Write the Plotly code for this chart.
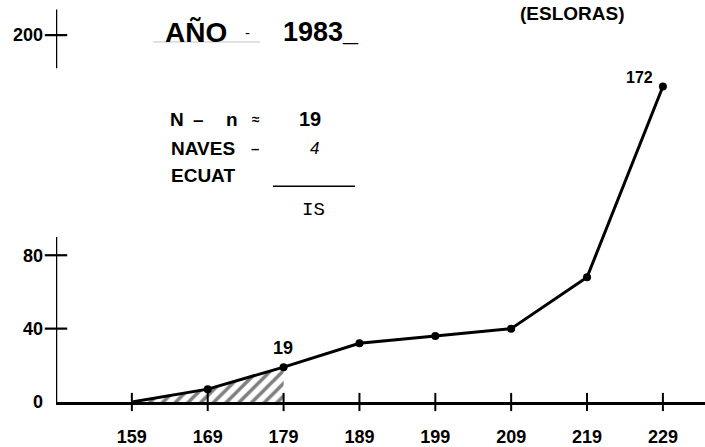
import plotly.graph_objects as go

# Length classes (upper limit of each 10-unit class) and cumulative counts
length_class = [159, 169, 179, 189, 199, 209, 219, 229]
cumulative = [0, 7, 19, 32, 36, 40, 68, 172]

# Vertical axis ticks; the axis is drawn broken between 80 and 200
y_ticks = [0, 40, 80, 200]
y_axis_lower = [0, 90]
y_axis_upper = [182, 214]

# Classes up to this one are shaded with hatching
hatch_upto = 179
sample_size = 19
vessels = 4

# Page geometry
W, H = 705, 447
M_L, M_R, M_T, M_B = 56, 0, 0, 35
X_RANGE = [149, 234.55]
Y_RANGE = [0, 219.15]
X0 = X_RANGE[0]

BOLD = dict(family="Liberation Sans, Arial, sans-serif", color="black", weight="bold")


def px(x, y):
    """Pixel position on the page -> paper coordinates."""
    return ((x - M_L) / (W - M_L - M_R), (H - M_B - y) / (H - M_T - M_B))


fig = go.Figure()

# Hatched area under the curve up to the reference class
hx = [c for c in length_class if c <= hatch_upto]
hy = cumulative[:len(hx)]
fig.add_trace(go.Scatter(
    x=hx, y=hy, mode="lines", fill="tozeroy",
    line=dict(width=0, color="black"),
    fillcolor="white",
    fillpattern=dict(shape="/", fgcolor="black", bgcolor="white", size=9, solidity=0.4),
    hoverinfo="skip", showlegend=False,
))

# Broken vertical axis segments
for seg in (y_axis_lower, y_axis_upper):
    fig.add_trace(go.Scatter(
        x=[X0, X0], y=seg, mode="lines",
        line=dict(color="black", width=2.5),
        hoverinfo="skip", showlegend=False, cliponaxis=False,
    ))

# Crossing tick marks on both axes
fig.add_trace(go.Scatter(
    x=[X0] * (len(y_ticks) - 1), y=y_ticks[1:], mode="markers",
    marker=dict(symbol="line-ew", size=16, line=dict(color="black", width=2.2)),
    hoverinfo="skip", showlegend=False, cliponaxis=False,
))
fig.add_trace(go.Scatter(
    x=length_class, y=[0] * len(length_class), mode="markers",
    marker=dict(symbol="line-ns", size=13, line=dict(color="black", width=2)),
    hoverinfo="skip", showlegend=False, cliponaxis=False,
))

# Cumulative curve
fig.add_trace(go.Scatter(
    x=length_class, y=cumulative, mode="lines",
    line=dict(color="black", width=3),
    showlegend=False, cliponaxis=False,
))
fig.add_trace(go.Scatter(
    x=length_class[1:], y=cumulative[1:], mode="markers",
    marker=dict(color="black", size=8),
    showlegend=False, cliponaxis=False,
))

annotations = []

# Value labels on the curve
i_ref = length_class.index(hatch_upto)
annotations.append(dict(x=length_class[i_ref], y=cumulative[i_ref], xref="x", yref="y",
                        text=str(cumulative[i_ref]), showarrow=False, yshift=19, xshift=-1,
                        font=dict(size=18, **BOLD)))
annotations.append(dict(x=length_class[-1], y=cumulative[-1], xref="x", yref="y",
                        text=str(cumulative[-1]), showarrow=False, yshift=9, xshift=-23,
                        font=dict(size=16, **BOLD)))


def label(text, x, y, size, anchor="center", font=None):
    ax, ay = px(x, y)
    f = dict(size=size, **BOLD) if font is None else dict(size=size, **font)
    annotations.append(dict(x=ax, y=ay, xref="paper", yref="paper", text=text,
                            showarrow=False, xanchor=anchor, yanchor="middle", font=f))


# Heading
label("AÑO", 196, 33, 28)
label("-", 247, 33, 15, font=dict(family="Liberation Sans", color="black"))
label("1983_", 281, 33, 27, anchor="left")
label("(ESLORAS)", 572, 14, 19)

# Sample information block
label("N", 177, 122, 19)
label("–", 198, 122, 19)
label("n", 232, 122, 19)
label("≈", 256, 122, 14)
label(str(sample_size), 310, 122, 20)
label("NAVES", 169, 152, 19, anchor="left")
label("–", 255, 152, 15)
label(str(vessels), 314, 152, 17,
      font=dict(family="Liberation Sans, Arial, sans-serif", color="black", style="italic"))
label("ECUAT", 169, 180, 19, anchor="left")
label("IS", 313, 215, 19, font=dict(family="Liberation Mono, Courier New, monospace", color="black"))

shapes = []


def hline(x1, x2, y, width, color):
    a, b = px(x1, y)
    c, _ = px(x2, y)
    shapes.append(dict(type="line", xref="paper", yref="paper", x0=a, x1=c, y0=b, y1=b,
                       line=dict(color=color, width=width)))


hline(153, 260, 43, 1, "#c4c4c4")
hline(273, 355, 191, 1.5, "black")

fig.update_layout(
    width=W, height=H,
    margin=dict(l=M_L, r=M_R, t=M_T, b=M_B),
    paper_bgcolor="white", plot_bgcolor="white",
    annotations=annotations, shapes=shapes,
    showlegend=False,
    xaxis=dict(
        range=X_RANGE, showgrid=False, zeroline=False,
        showline=True, linecolor="black", linewidth=2.5,
        tickvals=length_class, ticktext=[str(c) for c in length_class],
        ticks="", ticklabelstandoff=17, tickfont=dict(size=18, **BOLD),
        fixedrange=True,
    ),
    yaxis=dict(
        range=Y_RANGE, showgrid=False, zeroline=False, showline=False,
        tickvals=y_ticks, ticktext=[str(v) for v in y_ticks],
        ticks="", ticklabelstandoff=12, tickfont=dict(size=18, **BOLD),
        fixedrange=True,
    ),
)

fig.write_html("out.html")
